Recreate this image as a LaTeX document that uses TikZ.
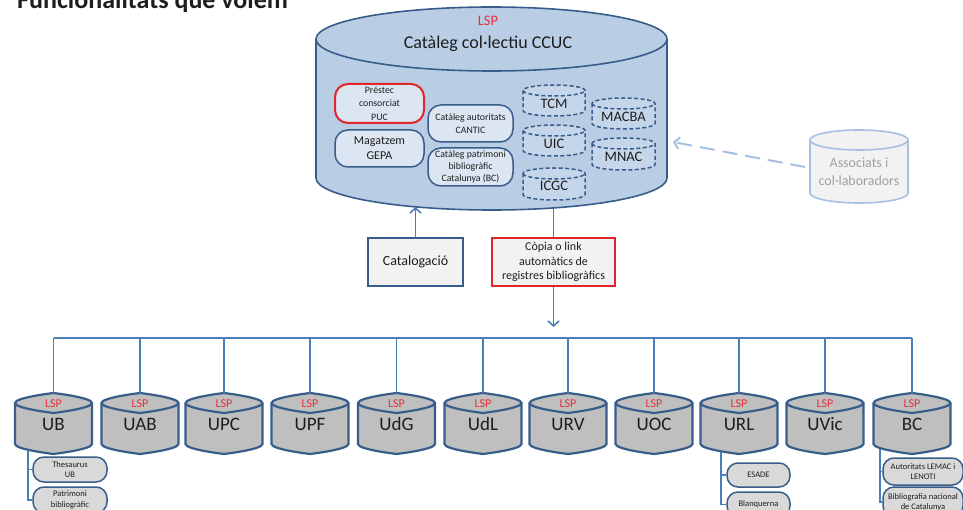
\documentclass[tikz,border=0pt]{standalone}
\usepackage{fontspec}
\setmainfont{Carlito}
\usetikzlibrary{arrows.meta}
\definecolor{cylfill}{HTML}{B9CDE5}
\definecolor{cylline}{HTML}{385D8A}
\definecolor{boxfill}{HTML}{DCE6F2}
\definecolor{dcylfill}{HTML}{C6D6EA}
\definecolor{redline}{HTML}{E0262B}
\definecolor{boxgray}{HTML}{F2F2F2}
\definecolor{graycyl}{HTML}{BFBFBF}
\definecolor{subfill}{HTML}{D9D9D9}
\definecolor{connc}{HTML}{4A7EBB}
\definecolor{assocline}{HTML}{A7BFE1}
\definecolor{assoctext}{HTML}{A0A0A0}
\definecolor{lspred}{HTML}{E8303A}
\definecolor{txt}{HTML}{1E1E1E}
\newcommand\fsz[2]{\fontsize{#1}{#2}\selectfont}
% cylinder: #1 name, #2 x left, #3 y top, #4 x right, #5 y bottom, #6 ellipse y radius, #7 style
\newcommand\cylndr[7]{%
  \pgfmathsetmacro\cxl{#2}%
  \pgfmathsetmacro\cxr{#4}%
  \pgfmathsetmacro\cxc{(#2+#4)/2}%
  \pgfmathsetmacro\crx{(#4-#2)/2}%
  \pgfmathsetmacro\cyt{#3+#6}%
  \pgfmathsetmacro\cyb{#5-#6}%
  \pgfmathsetmacro\cym{#3+2*#6}%
  \pgfmathsetmacro\kx{0.5523*\crx}%
  \pgfmathsetmacro\ky{0.5523*#6}%
  \path[#7] (\cxl,\cyt) -- (\cxl,\cyb)
    .. controls (\cxl,{\cyb+\ky}) and ({\cxc-\kx},#5) .. (\cxc,#5)
    .. controls ({\cxc+\kx},#5) and (\cxr,{\cyb+\ky}) .. (\cxr,\cyb)
    -- (\cxr,\cyt)
    .. controls (\cxr,{\cyt-\ky}) and ({\cxc+\kx},#3) .. (\cxc,#3)
    .. controls ({\cxc-\kx},#3) and (\cxl,{\cyt-\ky}) .. (\cxl,\cyt) -- cycle;
  \path[#7, fill=none] (\cxl,\cyt)
    .. controls (\cxl,{\cyt+\ky}) and ({\cxc-\kx},\cym) .. (\cxc,\cym)
    .. controls ({\cxc+\kx},\cym) and (\cxr,{\cyt+\ky}) .. (\cxr,\cyt);
  \coordinate (#1-t) at (\cxc,#3);
  \coordinate (#1-b) at (\cxc,#5);
}
\begin{document}
\begin{tikzpicture}[x=1pt,y=-1pt,
  mainbox/.style={draw=cylline, fill=boxfill, line width=1.5pt, rounded corners=13pt, align=center, inner sep=0pt, text=txt},
  subbox/.style={draw=cylline, fill=subfill, line width=1.5pt, rounded corners=11pt, align=center, inner sep=0pt, text=txt, font=\fsz{8.5}{10.5}},
  connline/.style={draw=connc, line width=1.6pt},
  tip/.style={-{Straight Barb[length=5pt,width=11pt]}},
  maincyl/.style={draw=cylline, fill=cylfill, line width=1.6pt},
  dcyl/.style={draw=cylline, fill=dcylfill, line width=1.5pt, dash pattern=on 4pt off 2.5pt},
  graycylst/.style={draw=cylline, fill=graycyl, line width=2.2pt},
  dlabel/.style={text=txt, font=\fsz{14.5}{17}},
  lspb/.style={text=lspred, font=\fsz{12}{14}, anchor=base},
  cname/.style={text=txt, font=\fsz{19}{22}, anchor=base},
]
\useasboundingbox (0,0) rectangle (963,510);
\clip (0,0) rectangle (963,510);

% title
\node[anchor=base west, text=txt, font=\bfseries\fsz{26}{30}, inner sep=0pt] (title) at (17,9) {Funcionalitats que volem};

% main cylinder
\cylndr{main}{316}{7}{667}{210}{32}{maincyl}
\node[text=lspred, font=\fsz{14.5}{17}, anchor=base] (mainlsp) at (488,26) {LSP};
\node[text=txt, font=\fsz{18}{21}, anchor=base] (maintitle) at (488,49) {Catàleg col·lectiu CCUC};

\node[mainbox, draw=redline, line width=2pt, minimum width=89pt, minimum height=39pt, font=\fsz{9.8}{13.5}] (prestec) at (379.5,103.5) {Préstec\\consorciat\\PUC};
\node[mainbox, minimum width=89pt, minimum height=37pt, font=\fsz{12}{15}] (gepa) at (379.5,148.5) {Magatzem\\GEPA};
\node[mainbox, minimum width=85pt, minimum height=37pt, font=\fsz{9.8}{12.5}] (cantic) at (470.5,123.5) {Catàleg autoritats\\CANTIC};
\node[mainbox, minimum width=85pt, minimum height=38pt, font=\fsz{9.8}{11.7}] (patbc) at (470.5,167) {Catàleg patrimoni\\bibliogràfic\\Catalunya (BC)};

\cylndr{tcm}{523}{85}{585}{116}{5.5}{dcyl}
\node[dlabel] (ltcm) at (554,104) {TCM};
\cylndr{uic}{523}{125}{585}{156}{5.5}{dcyl}
\node[dlabel] (luic) at (554,143.5) {UIC};
\cylndr{icgc}{523}{168}{585}{200}{5.5}{dcyl}
\node[dlabel] (licgc) at (554,186) {ICGC};
\cylndr{macba}{592}{98}{655}{129}{5.5}{dcyl}
\node[dlabel] (lmacba) at (623.5,117) {MACBA};
\cylndr{mnac}{592}{138}{655}{170}{5.5}{dcyl}
\node[dlabel] (lmnac) at (623.5,157) {MNAC};

% associats
\cylndr{assoc}{810}{130}{908}{203}{10}{draw=assocline, fill=boxgray, line width=1.6pt}
\node[text=assoctext, font=\fsz{14}{18}, align=center] (lassoc) at (859,172) {Associats i\\col·laboradors};
\coordinate (assocw) at (805,167);
\coordinate (assocend) at (673,142);
\draw[draw=assocline, line width=2pt, dash pattern=on 15pt off 8pt, -{Straight Barb[length=5pt,width=12pt]}] (assocw) -- (assocend);

% middle boxes
\node[draw=cylline, fill=boxgray, line width=2pt, minimum width=95pt, minimum height=48pt, inner sep=0pt, text=txt, font=\fsz{14}{17}] (catal) at (415.5,262) {Catalogació};
\node[draw=redline, fill=boxgray, line width=2pt, minimum width=123pt, minimum height=48pt, align=center, inner sep=0pt, text=txt, font=\fsz{12}{14.5}] (copia) at (553.5,262) {Còpia o link\\automàtics de\\registres bibliogràfics};

\coordinate (mainb1) at (415.5,207);
\coordinate (mainb2) at (553.5,208);
\coordinate (copyend) at (553.5,327);
\draw[connline, tip] (catal.north) -- (mainb1);
\draw[connline] (mainb2) -- (copia.north);
\draw[connline, tip] (copia.south) -- (copyend);

% bus
\coordinate (busL) at (53.5,338);
\coordinate (busR) at (912,338);
\draw[connline] (busL) -- (busR);

\foreach \nm/\cx in {UB/53.5, UAB/140, UPC/224, UPF/310, UdG/396.5, UdL/483, URV/568, UOC/654, URL/739, UVic/825, BC/912} {
  \cylndr{c\nm}{\cx-38.5}{393}{\cx+38.5}{454}{10}{graycylst}
  \draw[connline] (c\nm-t |- busL) -- (c\nm-t);
  \node[lspb] (l\nm) at (\cx,407) {LSP};
  \node[cname] (n\nm) at (\cx,430.5) {\nm};
}

% UB sub boxes
\coordinate (ubr) at (28,450);
\node[subbox, minimum width=74pt, minimum height=25pt] (thes) at (70,469.5) {Thesaurus\\UB};
\node[subbox, minimum width=74pt, minimum height=26pt] (patr) at (70,500) {Patrimoni\\bibliogràfic};
\draw[connline] (ubr) |- (thes.west);
\draw[connline] (ubr) |- (patr.west);

% URL sub boxes
\coordinate (urlr) at (721,452);
\node[subbox, minimum width=63pt, minimum height=24pt] (esade) at (758.5,475) {ESADE};
\node[subbox, minimum width=63pt, minimum height=25pt] (blanq) at (758.5,504.5) {Blanquerna};
\draw[connline] (urlr) |- (esade.west);
\draw[connline] (urlr) |- (blanq.west);

% BC sub boxes
\coordinate (bcr) at (880,448.5);
\node[subbox, minimum width=80pt, minimum height=27pt] (lemac) at (923,471.5) {Autoritats LEMAC i\\LENOTI};
\node[subbox, minimum width=80pt, minimum height=30pt] (bibnac) at (923,502) {Bibliografia nacional\\de Catalunya};
\draw[connline] (bcr) |- (lemac.west);
\draw[connline] (bcr) |- (bibnac.west);
\end{tikzpicture}
\end{document}
